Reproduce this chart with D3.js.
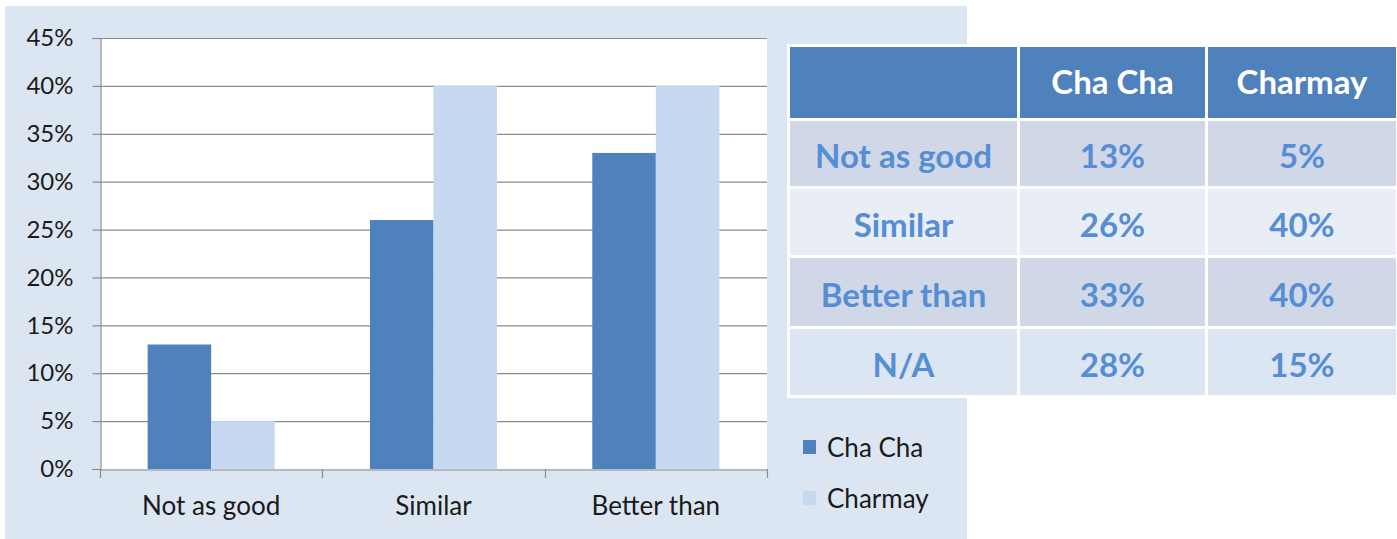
<!DOCTYPE html>
<html>
<head>
<meta charset="utf-8">
<script src="https://cdn.jsdelivr.net/npm/d3@7"></script>
<style>
  body { margin: 0; background: #fff; }
  svg { display: block; font-family: Lato, "Open Sans", sans-serif; }
</style>
</head>
<body>
<div id="chart"></div>
<script>
(function() {
	var w = 1397, h = 539

	// chart data
	var categories = ["Not as good", "Similar", "Better than"]
	var seriesNames = ["Cha Cha", "Charmay"]
	var chaCha = [13, 26, 33]
	var charmay = [5, 40, 40]
	var yTicks = [0, 5, 10, 15, 20, 25, 30, 35, 40, 45]

	// table data
	var tableRows = ["Not as good", "Similar", "Better than", "N/A"]
	var tableChaCha = [13, 26, 33, 28]
	var tableCharmay = [5, 40, 40, 15]

	var colors = ["#4f81bd", "#c6d9f0"],
		panelColor = "#dce6f2",
		gridColor = "#8c8c8c",
		textColor = "#1a1a1a",
		font = "Lato, 'Open Sans', sans-serif",
		margins = {top: 38, bottom: 469, left: 100, right: 767}

	var svg = d3.select("#chart").append("svg")
		.attr("width", w)
		.attr("height", h)

	// chart background panel
	svg.append("rect")
		.attr("x", 5).attr("y", 6)
		.attr("width", 962).attr("height", h - 6)
		.attr("fill", panelColor)

	// plot area
	svg.append("rect")
		.attr("x", margins.left).attr("y", margins.top)
		.attr("width", margins.right - margins.left)
		.attr("height", margins.bottom - margins.top)
		.attr("fill", "#fff")

	var data = categories.map((c, i) => ({cat: c, values: [chaCha[i], charmay[i]]}))

	var x0 = d3.scaleBand()
		.domain(categories)
		.range([margins.left, margins.right])

	var x1 = d3.scaleBand()
		.domain(seriesNames)
		.range([0, x0.bandwidth()])
		.paddingInner(0)
		.paddingOuter(0.75)

	var y = d3.scaleLinear()
		.domain([0, 45])
		.range([margins.bottom, margins.top])

	// gridlines
	svg.append("g")
		.selectAll("line")
		.data(yTicks.filter(d => d > 0))
		.enter()
		.append("line")
		.attr("x1", margins.left).attr("x2", margins.right)
		.attr("y1", d => y(d) + 0.5).attr("y2", d => y(d) + 0.5)
		.attr("stroke", gridColor)
		.attr("stroke-width", 1.2)

	// bars
	var groups = svg.append("g")
		.selectAll("g")
		.data(data)
		.enter()
		.append("g")
		.attr("transform", d => "translate(" + x0(d.cat) + ",0)")

	groups.selectAll("rect")
		.data(d => d.values.map((v, i) => ({name: seriesNames[i], value: v, i: i})))
		.enter()
		.append("rect")
		.attr("x", d => x1(d.name))
		.attr("y", d => y(d.value))
		.attr("width", x1.bandwidth())
		.attr("height", d => margins.bottom - y(d.value))
		.attr("fill", d => colors[d.i])

	// y axis
	var yAxis = d3.axisLeft(y)
		.tickValues(yTicks)
		.tickFormat(d => d + "%")
		.tickSize(8)
		.tickPadding(19)

	var yG = svg.append("g")
		.attr("transform", "translate(" + (margins.left + 0.5) + ",0)")
		.call(yAxis)
		.attr("font-family", font)
	yG.select(".domain").attr("stroke", gridColor).attr("stroke-width", 1.2)
	yG.selectAll(".tick line").attr("stroke", gridColor).attr("stroke-width", 1.2)
	yG.selectAll(".tick text")
		.attr("fill", textColor)
		.style("font-size", "24px")

	// x axis: labels centered, ticks on category boundaries
	var xAxis = d3.axisBottom(x0).tickSize(0).tickPadding(27)
	var xG = svg.append("g")
		.attr("transform", "translate(0," + (margins.bottom + 0.5) + ")")
		.call(xAxis)
		.attr("font-family", font)
	xG.select(".domain").attr("stroke", gridColor).attr("stroke-width", 1.2)
	xG.selectAll(".tick text")
		.attr("fill", textColor)
		.style("font-size", "26px")

	var bounds = categories.map(c => x0(c)).concat([x0.range()[1]])
	svg.append("g")
		.selectAll("line")
		.data(bounds)
		.enter()
		.append("line")
		.attr("x1", d => Math.round(d) + 0.5).attr("x2", d => Math.round(d) + 0.5)
		.attr("y1", margins.bottom).attr("y2", margins.bottom + 9)
		.attr("stroke", gridColor)
		.attr("stroke-width", 1.2)

	// legend
	var legend = svg.append("g")
		.selectAll("g")
		.data(seriesNames)
		.enter()
		.append("g")
		.attr("transform", (d, i) => "translate(803," + (440 + i * 51) + ")")

	legend.append("rect")
		.attr("width", 13).attr("height", 14)
		.attr("fill", (d, i) => colors[i])

	legend.append("text")
		.attr("x", 24).attr("y", 8)
		.attr("dy", "0.35em")
		.style("font-size", "26px")
		.attr("fill", textColor)
		.text(d => d)

	// data table on the right
	var colX = [790, 1020, 1208, 1399],
		rowY = [47, 121, 189, 258, 329, 398],
		rowFills = ["#d0d8e8", "#e9edf5", "#d0d8e8", "#dce6f2"],
		gap = 3

	svg.append("rect")
		.attr("x", colX[0] - 3).attr("y", rowY[0] - 3)
		.attr("width", w - colX[0] + 3).attr("height", rowY[5] - rowY[0] + 3)
		.attr("fill", "#fff")

	var header = ["", seriesNames[0], seriesNames[1]]
	var cells = []
	header.forEach((t, c) => cells.push({r: 0, c: c, text: t}))
	tableRows.forEach((name, r) => {
		cells.push({r: r + 1, c: 0, text: name})
		cells.push({r: r + 1, c: 1, text: tableChaCha[r] + "%"})
		cells.push({r: r + 1, c: 2, text: tableCharmay[r] + "%"})
	})

	var cellG = svg.append("g")
		.selectAll("g")
		.data(cells)
		.enter()
		.append("g")

	cellG.append("rect")
		.attr("x", d => colX[d.c])
		.attr("y", d => rowY[d.r])
		.attr("width", d => colX[d.c + 1] - colX[d.c] - gap)
		.attr("height", d => rowY[d.r + 1] - rowY[d.r] - gap)
		.attr("fill", d => d.r === 0 ? colors[0] : rowFills[d.r - 1])

	cellG.append("text")
		.attr("x", d => (colX[d.c] + colX[d.c + 1] - gap) / 2)
		.attr("y", d => (rowY[d.r] + rowY[d.r + 1] - gap) / 2 + (d.r === 0 ? 0 : 3))
		.attr("dy", "0.35em")
		.attr("text-anchor", "middle")
		.style("font-size", "33px")
		.style("font-weight", "bold")
		.attr("fill", d => d.r === 0 ? "#fff" : "#558ed5")
		.text(d => d.text)

})()
</script>
</body>
</html>
